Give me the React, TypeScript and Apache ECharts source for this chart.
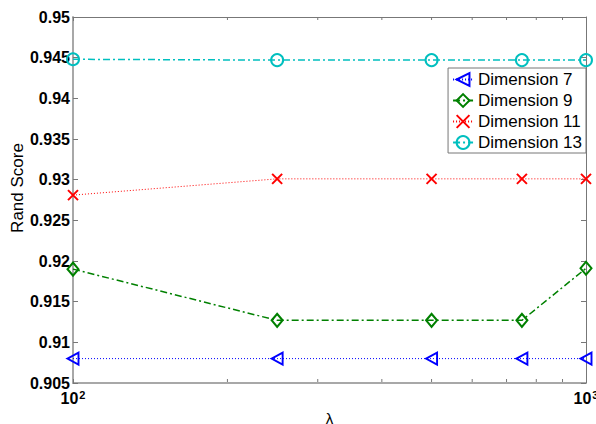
import React, { useEffect, useRef } from "react";
import * as echarts from "echarts";

const lambdaValues = [100, 250, 500, 750, 1000];
const dim7 = [0.908, 0.908, 0.908, 0.908, 0.908];
const dim9 = [0.9190, 0.9127, 0.9127, 0.9127, 0.9191];
const dim11 = [0.9281, 0.9301, 0.9301, 0.9301, 0.9301];
const dim13 = [0.9448, 0.9447, 0.9447, 0.9447, 0.9447];
const seriesNames = ["Dimension 7", "Dimension 9", "Dimension 11", "Dimension 13"];
const minorTickValues = [200, 300, 400, 500, 600, 700, 800, 900];
const yMin = 0.905;
const yMax = 0.95;
const yStep = 0.005;
const yTitle = "Rand Score";
const xTitle = "λ";

const FONT = "'Liberation Sans', Arial, sans-serif";

const triLeft = "path://M0,5 L10,0 L10,10 Z";
const diamond = "path://M5,0 L10,6 L5,12 L0,6 Z";
const cross = "path://M0,0 L10,10 M10,0 L0,10";

export default function App() {
  const ref = useRef<HTMLDivElement>(null);
  useEffect(() => {
    if (!ref.current) return;
    const chart = echarts.init(ref.current, undefined, { renderer: "svg" });
    const pair = (ys: number[]) => lambdaValues.map((x, i) => [x, ys[i]]);
    const hollow = (c: string) => ({ color: "rgba(0,0,0,0)", borderColor: c, borderWidth: 2 });
    const lineSeries = (name: string, ys: number[], color: string, dash: any, width: number, symbol: string, size: any) => ({
      type: "line",
      name,
      data: pair(ys),
      xAxisIndex: 0,
      yAxisIndex: 0,
      clip: false,
      symbol,
      symbolSize: size,
      showAllSymbol: true,
      lineStyle: { color, type: dash, width },
      itemStyle: hollow(color),
      emphasis: { disabled: true },
    });
    const logAxisLabel = (v: number) => {
      const e = Math.round(Math.log10(v));
      return "{b|10}{s|" + e + "}";
    };
    const option: any = {
      animation: false,
      backgroundColor: "#fff",
      textStyle: { fontFamily: FONT },
      grid: { left: 73, right: 10, top: 17, bottom: 41, containLabel: false, outerBoundsMode: "none" },
      graphic: [
        {
          type: "text",
          x: 17,
          y: 188,
          rotation: Math.PI / 2,
          silent: true,
          style: {
            text: yTitle,
            fontFamily: FONT,
            fontSize: 17,
            fill: "#000",
            align: "center",
            verticalAlign: "middle",
          },
        },
      ],
      legend: {
        data: seriesNames,
        orient: "vertical",
        right: 10,
        top: 68,
        padding: [3, 4, 2, 4],
        itemGap: 4,
        itemWidth: 20,
        itemHeight: 16,
        backgroundColor: "#fff",
        borderColor: "#777",
        borderWidth: 1,
        borderRadius: 0,
        selectedMode: false,
        textStyle: { fontFamily: FONT, fontSize: 17, color: "#000", lineHeight: 17 },
      },
      xAxis: [
        {
          type: "log",
          logBase: 10,
          min: 100,
          max: 1000,
          position: "bottom",
          name: xTitle,
          nameLocation: "middle",
          nameGap: 21,
          nameTextStyle: { fontFamily: FONT, fontSize: 15, color: "#000" },
          axisLine: { lineStyle: { color: "#a8a8a8", width: 2 } },
          axisTick: { inside: true, length: 4, lineStyle: { color: "#777" } },
          splitLine: { show: false },
          axisLabel: {
            margin: 6,
            formatter: logAxisLabel,
            rich: {
              b: { fontFamily: FONT, fontSize: 16, fontWeight: "bold", color: "#000" },
              s: { fontFamily: FONT, fontSize: 11, fontWeight: "bold", color: "#000", verticalAlign: "top", padding: [0, 0, 8, 1] },
            },
          },
        },
        {
          type: "log",
          logBase: 10,
          min: 100,
          max: 1000,
          position: "top",
          axisLine: { lineStyle: { color: "#777", width: 1 } },
          axisTick: { inside: true, length: 4, lineStyle: { color: "#777" } },
          axisLabel: { show: false },
          splitLine: { show: false },
        },
      ],
      yAxis: [
        {
          type: "value",
          min: yMin,
          max: yMax,
          interval: yStep,
          position: "left",
          axisLine: { show: true, lineStyle: { color: "#a8a8a8", width: 2 } },
          axisTick: { show: true, inside: true, length: 5, lineStyle: { color: "#777" } },
          splitLine: { show: false },
          axisLabel: {
            margin: 3,
            fontFamily: FONT,
            fontSize: 16,
            fontWeight: "bold",
            color: "#000",
            formatter: (v: number) => String(+v.toFixed(3)),
          },
        },
        {
          type: "value",
          min: yMin,
          max: yMax,
          interval: yStep,
          position: "right",
          axisLine: { show: true, lineStyle: { color: "#777", width: 1 } },
          axisTick: { show: true, inside: true, length: 5, lineStyle: { color: "#777" } },
          splitLine: { show: false },
          axisLabel: { show: false },
        },
      ],
      series: [
        {
          type: "custom",
          name: "minorTicks",
          xAxisIndex: 0,
          yAxisIndex: 0,
          silent: true,
          clip: false,
          data: minorTickValues.map((v) => [v, yMin]),
          encode: { x: 0, y: 1 },
          renderItem: (params: any, api: any) => {
            const x = api.value(0);
            const b = api.coord([x, yMin]);
            const t = api.coord([x, yMax]);
            const st = { stroke: "#777", lineWidth: 1 };
            return {
              type: "group",
              children: [
                { type: "line", shape: { x1: b[0], y1: b[1] - 1, x2: b[0], y2: b[1] - 4 }, style: st },
                { type: "line", shape: { x1: t[0], y1: t[1], x2: t[0], y2: t[1] + 3 }, style: st },
              ],
            };
          },
        },
        lineSeries(seriesNames[0], dim7, "#0000ff", [1, 2], 1, triLeft, [11, 12]),
        lineSeries(seriesNames[1], dim9, "#008000", [7, 3, 2, 3], 1.5, diamond, [11, 13]),
        lineSeries(seriesNames[2], dim11, "#ff0000", [1, 2], 1, cross, [10, 10]),
        lineSeries(seriesNames[3], dim13, "#00bfbf", [7, 3, 2, 3], 1.5, "circle", 12),
      ],
    };
    chart.setOption(option);
    return () => chart.dispose();
  }, []);
  return <div ref={ref} style={{ width: 596, height: 424, position: "absolute", left: 0, top: 0 }} />;
}
